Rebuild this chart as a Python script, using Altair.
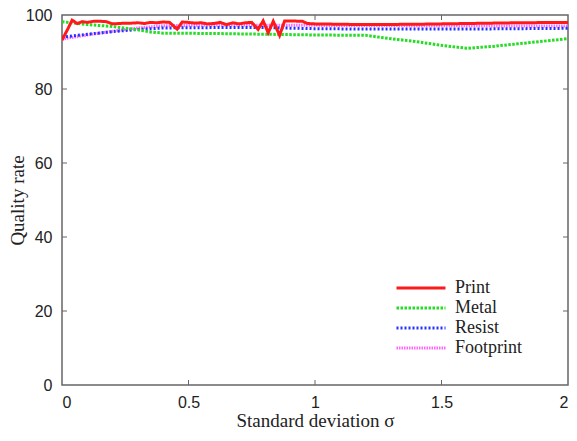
import altair as alt
import pandas as pd

# ---- data ----
series_order = ["Print", "Metal", "Resist", "Footprint"]

print_x = [0, 0.025, 0.04, 0.06, 0.08, 0.1, 0.125, 0.15, 0.175, 0.2, 0.225, 0.25,
           0.275, 0.3, 0.325, 0.35, 0.375, 0.4, 0.425, 0.455, 0.475, 0.5, 0.525,
           0.55, 0.575, 0.6, 0.625, 0.65, 0.675, 0.7, 0.725, 0.75, 0.775, 0.795,
           0.815, 0.835, 0.86, 0.88, 0.9, 0.95, 0.97, 1.0, 1.2, 1.4, 1.6, 1.8, 2.0]
print_y = [93.2, 96.5, 98.6, 97.7, 98.2, 98.0, 98.3, 98.3, 98.2, 97.6, 97.7, 97.8,
           97.8, 97.9, 97.7, 98.0, 97.9, 98.1, 98.0, 96.2, 98.1, 98.0, 97.8,
           97.9, 97.6, 97.7, 98.0, 97.4, 97.9, 97.6, 97.9, 98.0, 96.1, 98.4,
           95.2, 98.3, 94.5, 98.4, 98.4, 98.3, 97.7, 97.6, 97.4, 97.5, 97.7, 97.9, 98.0]

metal_x = [0, 0.1, 0.2, 0.3, 0.35, 0.4, 0.6, 0.8, 1.0, 1.2, 1.3, 1.4, 1.5, 1.6, 1.7, 1.8, 1.9, 2.0]
metal_y = [98.2, 97.4, 96.9, 96.0, 95.4, 95.1, 95.0, 94.8, 94.6, 94.5, 93.6, 92.8, 91.8, 91.0, 91.5, 92.2, 92.9, 93.6]

resist_x = [0, 0.1, 0.2, 0.3, 0.4, 0.6, 0.8, 1.0, 1.2, 1.4, 1.6, 1.8, 2.0]
resist_y = [94.0, 94.8, 95.5, 96.1, 96.5, 96.6, 96.6, 96.3, 96.2, 96.2, 96.2, 96.3, 96.4]

foot_x = [0, 0.1, 0.2, 0.3, 0.4, 0.6, 1.0, 1.5, 2.0]
foot_y = [93.5, 94.6, 95.6, 96.5, 97.1, 97.3, 97.2, 97.1, 97.0]

x_ticks = [0, 0.5, 1, 1.5, 2]
y_ticks = [0, 20, 40, 60, 80, 100]
x_inner = [0.5, 1, 1.5]
y_inner = [20, 40, 60, 80]

colors = ["#ff1a1a", "#22dd22", "#2233ff", "#ff66ff"]
dashes = [[1, 0], [2.5, 1.5], [2, 2], [1.5, 1]]

rows = []
for name, xs, ys in [("Print", print_x, print_y), ("Metal", metal_x, metal_y),
                     ("Resist", resist_x, resist_y), ("Footprint", foot_x, foot_y)]:
    for a, b in zip(xs, ys):
        rows.append({"sigma": a, "rate": b, "series": name})
df = pd.DataFrame(rows)

W, H = 506, 370
xscale = alt.Scale(domain=[0, 2], nice=False, zero=False)
yscale = alt.Scale(domain=[0, 100], nice=False)

leg = alt.Legend(orient="none", legendX=333, legendY=263, title=None,
                 labelFont="Liberation Serif", labelFontSize=18, labelColor="#222",
                 symbolSize=2401, symbolStrokeWidth=3, labelOffset=8,
                 clipHeight=20, rowPadding=0, symbolType="stroke")

color = alt.Color("series:N", scale=alt.Scale(domain=series_order, range=colors), legend=leg)
dash = alt.StrokeDash("series:N", scale=alt.Scale(domain=series_order, range=dashes), legend=leg)

xaxis = alt.Axis(values=x_ticks, format="~g", title="Standard deviation  σ",
                 labelPadding=9, titleY=26, titleBaseline="top", titleFontSize=19)
yaxis = alt.Axis(values=y_ticks, title="Quality rate", labelPadding=10,
                 titleX=-35, titleY=H / 2, titleBaseline="bottom", titleFontSize=19)
xenc = alt.X("sigma:Q", scale=xscale, axis=xaxis)
yenc = alt.Y("rate:Q", scale=yscale, axis=yaxis)

base = alt.Chart(df).mark_line(strokeWidth=3, clip=True).encode(
    x=xenc, y=yenc, color=color, strokeDash=dash)
lines = [base.transform_filter(alt.datum.series == s)
         for s in ["Footprint", "Resist", "Metal", "Print"]]

xt = pd.DataFrame({"sigma": x_inner})
yt = pd.DataFrame({"rate": y_inner})
tick_col = "#666"
xb = alt.Chart(xt).mark_rule(color=tick_col).encode(
    x=xenc, y=alt.value(H), y2=alt.value(H - 5))
xtp = alt.Chart(xt).mark_rule(color=tick_col).encode(
    x=xenc, y=alt.value(0), y2=alt.value(5))
yl = alt.Chart(yt).mark_rule(color=tick_col).encode(
    y=yenc, x=alt.value(0), x2=alt.value(5))
yr = alt.Chart(yt).mark_rule(color=tick_col).encode(
    y=yenc, x=alt.value(W), x2=alt.value(W - 5))

chart = alt.layer(*lines, xb, xtp, yl, yr).properties(
    width=W, height=H, autosize="none",
    padding={"left": 54, "top": 7, "right": 1, "bottom": 46},
).configure_view(stroke="#666", strokeWidth=1.5).configure_axis(
    domain=False, grid=False, ticks=False,
    labelFont="Liberation Sans", labelFontSize=16, labelColor="#222",
    titleFont="Liberation Serif", titleFontSize=20, titleFontWeight="normal", titleColor="#222",
)

chart.save("out.html", embed_options={"renderer": "svg", "actions": False})
